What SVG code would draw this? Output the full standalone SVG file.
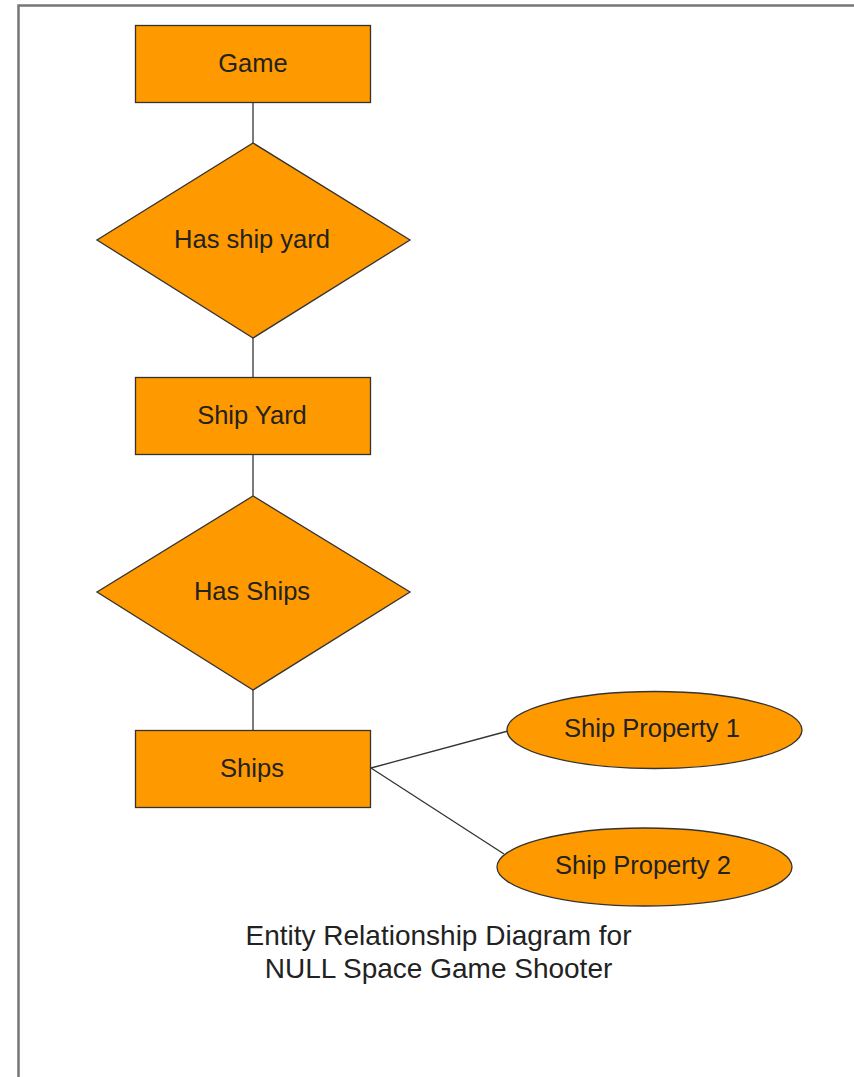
<svg xmlns="http://www.w3.org/2000/svg" width="854" height="1077" viewBox="0 0 854 1077">
<style>
.n{fill:#FF9900;stroke:#333;stroke-width:1.3}
.t{font-family:"Liberation Sans",Arial,sans-serif;font-size:25.5px;fill:#222;text-anchor:middle;dominant-baseline:central}
.c{stroke:#333;stroke-width:1.3;fill:none}
.cap{font-family:"Liberation Sans",Arial,sans-serif;font-size:28px;fill:#222;text-anchor:middle}
</style>
<rect width="854" height="1077" fill="#fff"/>
<path d="M18.5 1077 V5.5 H854" fill="none" stroke="#777" stroke-width="2.5"/>
<g id="connectors">
<line class="c" x1="253" y1="103" x2="253" y2="143"/>
<line class="c" x1="253" y1="338" x2="253" y2="377"/>
<line class="c" x1="253" y1="455" x2="253" y2="496"/>
<line class="c" x1="253" y1="690" x2="253" y2="730"/>
<line class="c" x1="371" y1="768" x2="508" y2="731"/>
<line class="c" x1="371" y1="768" x2="504" y2="854"/>
</g>
<g id="game"><rect class="n" x="135.5" y="25.5" width="235" height="77"/><text class="t" x="253" y="63">Game</text></g>
<g id="has-ship-yard"><polygon class="n" points="253,143 410,240 253,338 97,240"/><text class="t" x="252" y="239">Has ship yard</text></g>
<g id="ship-yard"><rect class="n" x="135.5" y="377.5" width="235" height="77"/><text class="t" x="252" y="415">Ship Yard</text></g>
<g id="has-ships"><polygon class="n" points="253,496 410,592 253,690 97,592"/><text class="t" x="252" y="591">Has Ships</text></g>
<g id="ships"><rect class="n" x="135.5" y="730.5" width="235" height="77"/><text class="t" x="252" y="768">Ships</text></g>
<g id="ship-property-1"><ellipse class="n" cx="654.5" cy="730" rx="147.5" ry="38.5"/><text class="t" x="652" y="728">Ship Property 1</text></g>
<g id="ship-property-2"><ellipse class="n" cx="644.5" cy="867" rx="147.5" ry="39"/><text class="t" x="643" y="865">Ship Property 2</text></g>
<g id="caption">
<text class="cap" x="438.5" y="945">Entity Relationship Diagram for</text>
<text class="cap" x="438.5" y="978">NULL Space Game Shooter</text>
</g>
</svg>
